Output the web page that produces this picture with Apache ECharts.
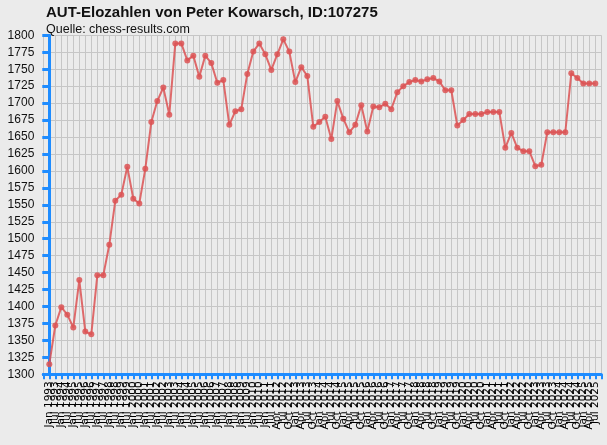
<!DOCTYPE html>
<html><head><meta charset="utf-8">
<script src="https://cdn.jsdelivr.net/npm/echarts@6/dist/echarts.min.js"></script>
<style>html,body{margin:0;padding:0;background:#ebebeb;}#c{width:607px;height:445px;}</style>
</head><body><div id="c"></div>
<script>
// Semiannual lists Jan 1993 .. Jul 2011, then quarterly Apr 2012 .. Jul 2025
const semiannualLabels = [
 'Jan 1993','Jul 1993','Jan 1994','Jul 1994','Jan 1995','Jul 1995','Jan 1996','Jul 1996',
 'Jan 1997','Jul 1997','Jan 1998','Jul 1998','Jan 1999','Jul 1999','Jan 2000','Jul 2000',
 'Jan 2001','Jul 2001','Jan 2002','Jul 2002','Jan 2003','Jul 2003','Jan 2004','Jul 2004',
 'Jan 2005','Jul 2005','Jan 2006','Jul 2006','Jan 2007','Jul 2007','Jan 2008','Jul 2008',
 'Jan 2009','Jul 2009','Jan 2010','Jul 2010','Jan 2011','Jul 2011'];
const quarterlyLabels = [
 'Apr 2012','Jul 2012','Oct 2012',
 'Jan 2013','Apr 2013','Jul 2013','Oct 2013','Jan 2014','Apr 2014','Jul 2014','Oct 2014',
 'Jan 2015','Apr 2015','Jul 2015','Oct 2015','Jan 2016','Apr 2016','Jul 2016','Oct 2016',
 'Jan 2017','Apr 2017','Jul 2017','Oct 2017','Jan 2018','Apr 2018','Jul 2018','Oct 2018',
 'Jan 2019','Apr 2019','Jul 2019','Oct 2019','Jan 2020','Apr 2020','Jul 2020','Oct 2020',
 'Jan 2021','Apr 2021','Jul 2021','Oct 2021','Jan 2022','Apr 2022','Jul 2022','Oct 2022',
 'Jan 2023','Apr 2023','Jul 2023','Oct 2023','Jan 2024','Apr 2024','Jul 2024','Oct 2024',
 'Jan 2025','Apr 2025','Jul 2025'];
const categories = semiannualLabels.concat(quarterlyLabels);

const eloValues = [
 1315,1372,1399,1388,1369,1439,1363,1359,1446,1446,
 1491,1556,1565,1606,1559,1552,1603,1672,1703,1723,
 1683,1788,1788,1763,1770,1739,1770,1759,1730,1734,
 1668,1688,1691,1743,1776,1788,1772,1749,1772,1794,
 1776,1731,1753,1740,1665,1672,1680,1647,1703,1677,
 1657,1668,1697,1658,1695,1694,1699,1691,1716,1725,
 1731,1734,1732,1735,1737,1732,1719,1719,1667,1675,
 1684,1684,1684,1687,1687,1687,1634,1656,1634,1629,
 1629,1607,1609,1657,1657,1657,1657,1744,1737,1729,
 1729,1729];

const yTicks = {min:1300, max:1800, step:25};

const chart = echarts.init(document.getElementById('c'));
const blue = '#1e8cff';
const fam = '"Liberation Sans", Arial, sans-serif';
chart.setOption({
  backgroundColor:'#ebebeb',
  animation:false,
  title:{
    text:'AUT-Elozahlen von Peter Kowarsch, ID:107275',
    subtext:'Quelle: chess-results.com',
    left:41, top:0, itemGap:3,
    textStyle:{fontFamily:fam, fontSize:15, fontWeight:'bold', color:'#111'},
    subtextStyle:{fontFamily:fam, fontSize:12.5, color:'#111'}
  },
  grid:{left:43.3, right:5.7, top:35.3, bottom:70.7},
  xAxis:{
    type:'value', min:-1, max:categories.length, interval:1,
    axisLine:{onZero:false, lineStyle:{color:blue, width:3}},
    axisTick:{show:true, length:5, lineStyle:{color:blue, width:2}},
    splitLine:{show:true, lineStyle:{color:'#c6c6c6', width:1}},
    axisLabel:{
      rotate:90, fontSize:10.5, color:'#000', fontFamily:'"DejaVu Sans", sans-serif', margin:7,
      showMinLabel:true, showMaxLabel:true,
      formatter:v => (v>=0 && v<categories.length) ? categories[v] : ''
    }
  },
  yAxis:{
    type:'value', min:yTicks.min, max:yTicks.max, interval:yTicks.step,
    axisLine:{show:true, lineStyle:{color:blue, width:3}},
    axisTick:{show:true, length:7, lineStyle:{color:blue, width:3}},
    splitLine:{show:true, lineStyle:{color:'#c6c6c6', width:1}},
    axisLabel:{fontSize:12, color:'#111', fontFamily:fam, margin:9, formatter:v => String(v)}
  },
  series:[{
    type:'line',
    data: eloValues.map((v,i)=>[i,v]),
    symbol:'circle', symbolSize:6,
    lineStyle:{color:'rgba(220,82,84,0.85)', width:2},
    itemStyle:{color:'rgba(220,82,84,0.85)'}
  }]
});
</script></body></html>
